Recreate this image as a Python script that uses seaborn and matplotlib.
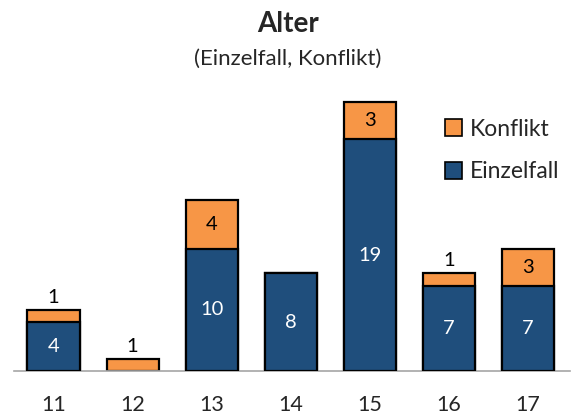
import matplotlib
matplotlib.use("Agg")
import matplotlib.pyplot as plt
from matplotlib.patches import Patch
import seaborn as sns
import pandas as pd

ages = ["11", "12", "13", "14", "15", "16", "17"]
einzelfall = [4, 0, 10, 8, 19, 7, 7]
konflikt = [1, 1, 4, 0, 3, 1, 3]

blue = "#1F4E7C"
orange = "#F79646"

sns.set_theme(style="white")
plt.rcParams["font.family"] = ["Lato", "DejaVu Sans"]

df = pd.DataFrame({"Alter": ages, "Einzelfall": einzelfall, "Konflikt": konflikt})
df["Gesamt"] = df["Einzelfall"] + df["Konflikt"]

fig = plt.figure(figsize=(5.76, 4.18), dpi=100)
ax = fig.add_axes([14 / 576, 47 / 418, 556 / 576, 282 / 418])

# stacked bars: full height in orange, Einzelfall part drawn over it in blue
sns.barplot(data=df, x="Alter", y="Gesamt", color=orange, saturation=1,
            width=0.66, edgecolor="black", linewidth=1.6, ax=ax, zorder=2)
sns.barplot(data=df[df["Einzelfall"] > 0], x="Alter", y="Einzelfall",
            order=ages, color=blue, saturation=1, width=0.66,
            edgecolor="black", linewidth=1.6, ax=ax, zorder=3)

for i, (e, k) in enumerate(zip(einzelfall, konflikt)):
    if e > 0:
        ax.text(i, e / 2, str(e), ha="center", va="center",
                color="white", fontsize=14.5, zorder=5)
    if k >= 2:
        ax.text(i, e + k / 2, str(k), ha="center", va="center",
                color="black", fontsize=14.5, zorder=5)
    elif k > 0:
        ax.annotate(str(k), (i, e + k), xytext=(0, 3),
                    textcoords="offset points", ha="center", va="bottom",
                    color="black", fontsize=14.5, zorder=5)

ax.set_xlim(-0.5, 6.53)
ax.set_ylim(0, 23.1)
ax.set_xlabel("")
ax.set_ylabel("")
ax.set_yticks([])
ax.tick_params(axis="x", length=0, pad=17, labelsize=15.5)
for s in ["top", "right", "left"]:
    ax.spines[s].set_visible(False)
ax.spines["bottom"].set_color("#a6a6a6")
ax.spines["bottom"].set_linewidth(1.2)

handles = [Patch(facecolor=orange, edgecolor="black", linewidth=1.2),
           Patch(facecolor=blue, edgecolor="black", linewidth=1.2)]
fig.legend(handles, ["Konflikt", "Einzelfall"], loc="upper left",
           bbox_to_anchor=(424 / 576, 1 - 98 / 418), frameon=False,
           fontsize=16.5, handlelength=0.75, handleheight=0.75,
           handletextpad=0.35, labelspacing=0.95)

fig.text(0.5, 1 - 24 / 418, "Alter", ha="center", va="center",
         fontsize=20, fontweight="bold")
fig.text(0.5, 1 - 59 / 418, "(Einzelfall, Konflikt)", ha="center",
         va="center", fontsize=16)

fig.savefig("out.png", dpi=100)
